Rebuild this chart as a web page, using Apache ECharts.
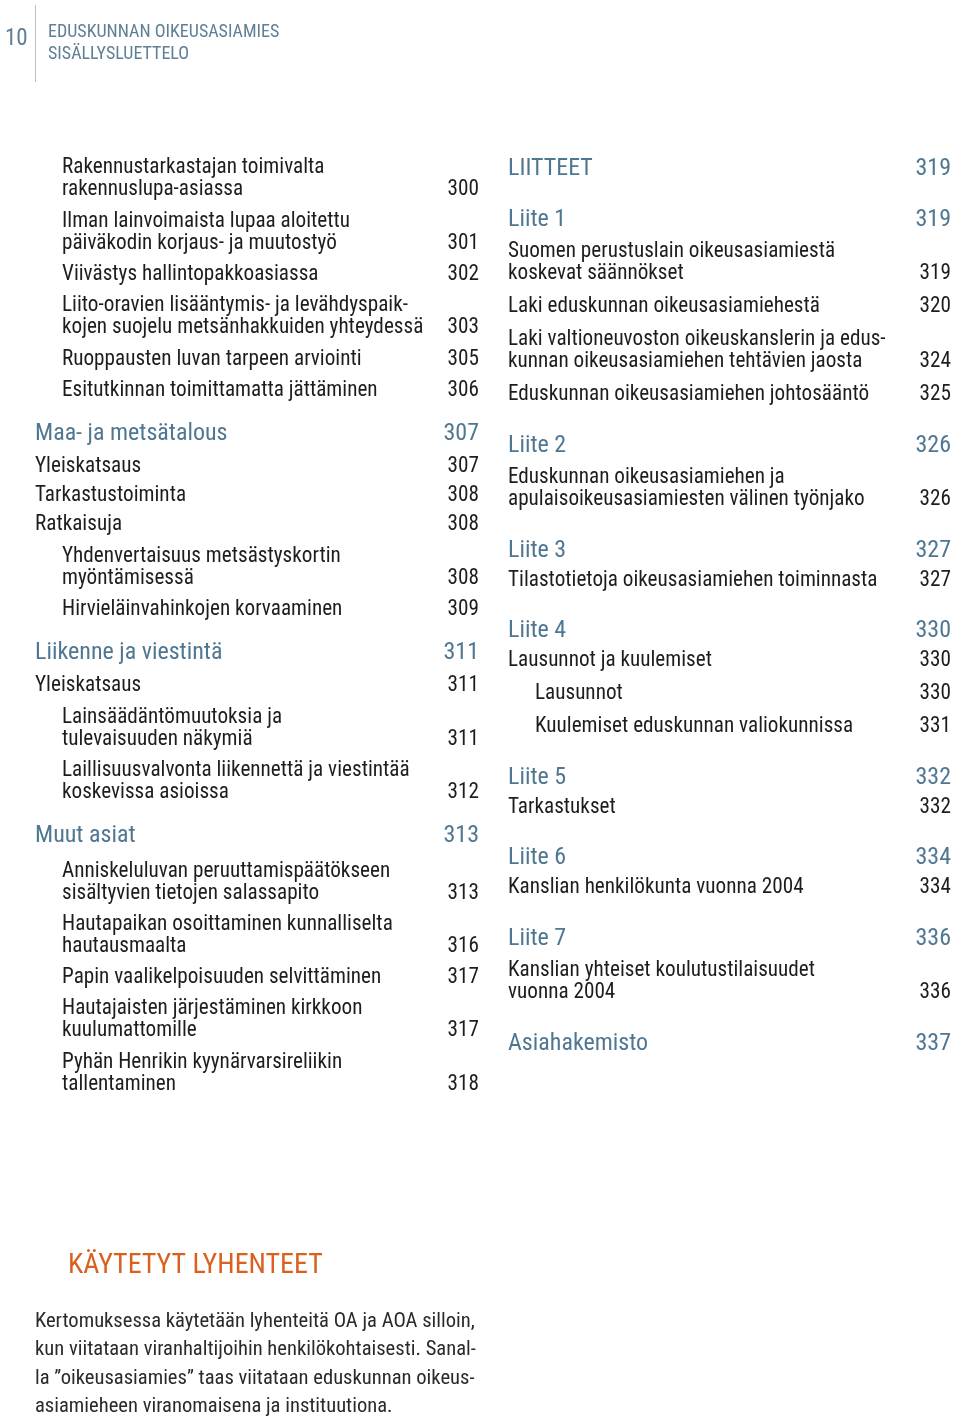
<!DOCTYPE html>
<html>
<head>
<meta charset="utf-8">
<script src="https://cdn.jsdelivr.net/npm/echarts@6/dist/echarts.min.js"></script>
<style>
html,body{margin:0;padding:0;background:#fff;}
#chart{width:960px;height:1420px;}
</style>
</head>
<body>
<div id="chart"></div>
<script>
// ---- DATA ----
const pageNumber = '10';
const headerLines = ['EDUSKUNNAN OIKEUSASIAMIES', 'SISÄLLYSLUETTELO'];

// type: 'h' = heading, 'i' = item; level 0 = flush, 1 = indented
const leftEntries = [
  { type: 'i', level: 1, lines: ['Rakennustarkastajan toimivalta', 'rakennuslupa-asiassa'], page: '300' },
  { type: 'i', level: 1, lines: ['Ilman lainvoimaista lupaa aloitettu', 'päiväkodin korjaus- ja muutostyö'], page: '301' },
  { type: 'i', level: 1, lines: ['Viivästys hallintopakkoasiassa'], page: '302' },
  { type: 'i', level: 1, lines: ['Liito-oravien lisääntymis- ja levähdyspaik-', 'kojen suojelu metsänhakkuiden yhteydessä'], page: '303' },
  { type: 'i', level: 1, lines: ['Ruoppausten luvan tarpeen arviointi'], page: '305' },
  { type: 'i', level: 1, lines: ['Esitutkinnan toimittamatta jättäminen'], page: '306' },
  { type: 'h', level: 0, lines: ['Maa- ja metsätalous'], page: '307' },
  { type: 'i', level: 0, lines: ['Yleiskatsaus'], page: '307' },
  { type: 'i', level: 0, lines: ['Tarkastustoiminta'], page: '308' },
  { type: 'i', level: 0, lines: ['Ratkaisuja'], page: '308' },
  { type: 'i', level: 1, lines: ['Yhdenvertaisuus metsästyskortin', 'myöntämisessä'], page: '308' },
  { type: 'i', level: 1, lines: ['Hirvieläinvahinkojen korvaaminen'], page: '309' },
  { type: 'h', level: 0, lines: ['Liikenne ja viestintä'], page: '311' },
  { type: 'i', level: 0, lines: ['Yleiskatsaus'], page: '311' },
  { type: 'i', level: 1, lines: ['Lainsäädäntömuutoksia ja', 'tulevaisuuden näkymiä'], page: '311' },
  { type: 'i', level: 1, lines: ['Laillisuusvalvonta liikennettä ja viestintää', 'koskevissa asioissa'], page: '312' },
  { type: 'h', level: 0, lines: ['Muut asiat'], page: '313' },
  { type: 'i', level: 1, lines: ['Anniskeluluvan peruuttamispäätökseen', 'sisältyvien tietojen salassapito'], page: '313' },
  { type: 'i', level: 1, lines: ['Hautapaikan osoittaminen kunnalliselta', 'hautausmaalta'], page: '316' },
  { type: 'i', level: 1, lines: ['Papin vaalikelpoisuuden selvittäminen'], page: '317' },
  { type: 'i', level: 1, lines: ['Hautajaisten järjestäminen kirkkoon', 'kuulumattomille'], page: '317' },
  { type: 'i', level: 1, lines: ['Pyhän Henrikin kyynärvarsireliikin', 'tallentaminen'], page: '318' }
];

const rightEntries = [
  { type: 'h', level: 0, lines: ['LIITTEET'], page: '319' },
  { type: 'h', level: 0, lines: ['Liite 1'], page: '319' },
  { type: 'i', level: 0, lines: ['Suomen perustuslain oikeusasiamiestä', 'koskevat säännökset'], page: '319' },
  { type: 'i', level: 0, lines: ['Laki eduskunnan oikeusasiamiehestä'], page: '320' },
  { type: 'i', level: 0, lines: ['Laki valtioneuvoston oikeuskanslerin ja edus-', 'kunnan oikeusasiamiehen tehtävien jaosta'], page: '324' },
  { type: 'i', level: 0, lines: ['Eduskunnan oikeusasiamiehen johtosääntö'], page: '325' },
  { type: 'h', level: 0, lines: ['Liite 2'], page: '326' },
  { type: 'i', level: 0, lines: ['Eduskunnan oikeusasiamiehen ja', 'apulaisoikeusasiamiesten välinen työnjako'], page: '326' },
  { type: 'h', level: 0, lines: ['Liite 3'], page: '327' },
  { type: 'i', level: 0, lines: ['Tilastotietoja oikeusasiamiehen toiminnasta'], page: '327' },
  { type: 'h', level: 0, lines: ['Liite 4'], page: '330' },
  { type: 'i', level: 0, lines: ['Lausunnot ja kuulemiset'], page: '330' },
  { type: 'i', level: 1, lines: ['Lausunnot'], page: '330' },
  { type: 'i', level: 1, lines: ['Kuulemiset eduskunnan valiokunnissa'], page: '331' },
  { type: 'h', level: 0, lines: ['Liite 5'], page: '332' },
  { type: 'i', level: 0, lines: ['Tarkastukset'], page: '332' },
  { type: 'h', level: 0, lines: ['Liite 6'], page: '334' },
  { type: 'i', level: 0, lines: ['Kanslian henkilökunta vuonna 2004'], page: '334' },
  { type: 'h', level: 0, lines: ['Liite 7'], page: '336' },
  { type: 'i', level: 0, lines: ['Kanslian yhteiset koulutustilaisuudet', 'vuonna 2004'], page: '336' },
  { type: 'h', level: 0, lines: ['Asiahakemisto'], page: '337' }
];

const abbrTitle = 'KÄYTETYT LYHENTEET';
const abbrLines = [
  'Kertomuksessa käytetään lyhenteitä OA ja AOA silloin,',
  'kun viitataan viranhaltijoihin henkilökohtaisesti. Sanal-',
  'la ”oikeusasiamies” taas viitataan eduskunnan oikeus-',
  'asiamieheen viranomaisena ja instituutiona.'
];

// ---- STYLE / LAYOUT ----
const FONT = "'Liberation Sans Narrow', 'Roboto Condensed', Roboto, sans-serif";
const BODY = '#1d1d1b';
const BLUE = '#4f7792';
const GREYBLUE = '#5f7f95';
const ORANGE = '#d9601f';
const DY = 3; // visual centring offset

function txt(x, y, s, size, color, align) {
  return {
    type: 'text', x: x, y: y + DY, silent: true,
    style: { text: s, fontFamily: FONT, fontSize: size, fill: color,
             align: align || 'left', verticalAlign: 'middle' }
  };
}

function layoutColumn(entries, p) {
  const els = [];
  let y = p.startY, prev = null;
  entries.forEach(function (e, i) {
    if (i > 0) {
      if (e.type === 'h') y += p.beforeHead;
      else if (prev.type === 'h') y += p.afterHead(e);
      else y += p.gap(e, prev);
    }
    const isH = e.type === 'h';
    const size = isH ? p.headSize : p.bodySize;
    const color = isH ? BLUE : BODY;
    const x = p.x + (e.level ? p.indent : 0);
    e.lines.forEach(function (ln, j) {
      if (j > 0) y += p.lineH;
      els.push(txt(x, y, ln, size, color, 'left'));
    });
    els.push(txt(p.right, y, e.page, size, color, 'right'));
    prev = e;
  });
  return els;
}

const leftEls = layoutColumn(leftEntries, {
  x: 35, indent: 27, right: 479, startY: 165, lineH: 22,
  headSize: 24, bodySize: 21.2, beforeHead: 43,
  afterHead: function (e) { return e.level ? 35.5 : 33.5; },
  gap: function (e) { return e.level ? 31.3 : 29; }
});
const rightEls = layoutColumn(rightEntries, {
  x: 508, indent: 27, right: 951, startY: 166, lineH: 22,
  headSize: 24, bodySize: 21.2, beforeHead: 50.5,
  afterHead: function (e) { return e.lines.length > 1 ? 32.5 : 30; },
  gap: function () { return 33; }
});

const headerEls = [
  txt(5, 36, pageNumber, 23, GREYBLUE, 'left'),
  { type: 'line', silent: true, shape: { x1: 35.5, y1: 5, x2: 35.5, y2: 82 },
    style: { stroke: '#b9bfc4', lineWidth: 1 } },
  txt(48, 29, headerLines[0], 18, GREYBLUE, 'left'),
  txt(48, 51, headerLines[1], 18, GREYBLUE, 'left')
];

const abbrEls = [txt(68, 1263, abbrTitle, 28, ORANGE, 'left')];
abbrLines.forEach(function (ln, i) {
  abbrEls.push(txt(35, 1319 + i * 28.3, ln, 20.6, '#2a2a28', 'left'));
});

const chart = echarts.init(document.getElementById('chart'), null, { renderer: 'canvas' });
chart.setOption({
  backgroundColor: '#ffffff',
  animation: false,
  graphic: { elements: headerEls.concat(leftEls, rightEls, abbrEls) }
});
</script>
</body>
</html>
